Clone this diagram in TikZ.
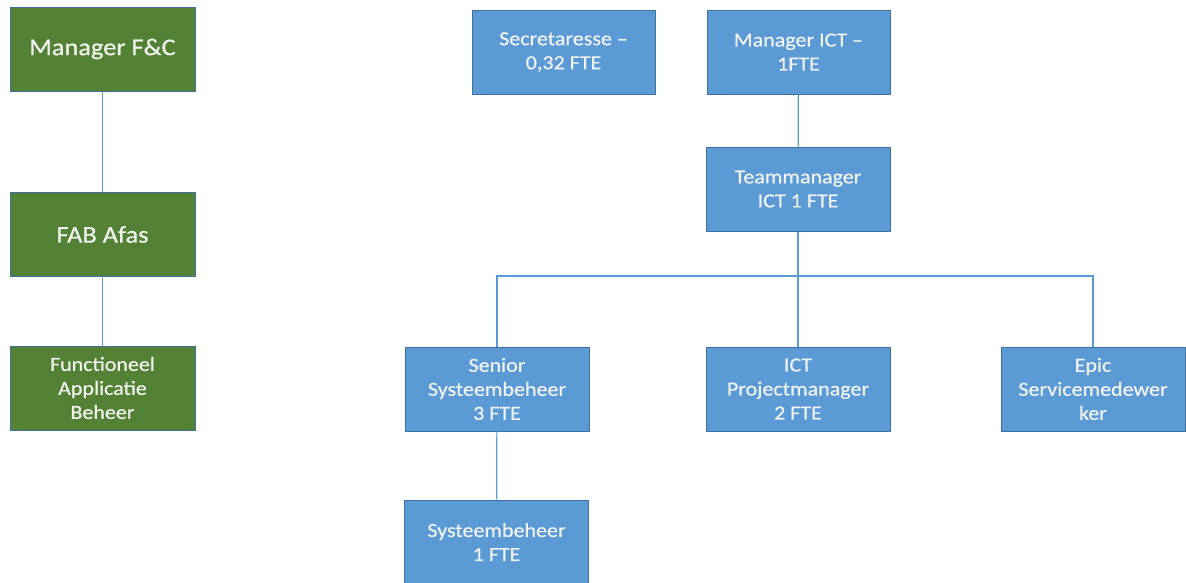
\documentclass[tikz,border=0pt]{standalone}
\usepackage{fontspec}
\setmainfont[FakeStretch=1.1,FakeBold=0.6]{Carlito}
\definecolor{bfill}{HTML}{5B9BD5}
\definecolor{bline}{HTML}{41719C}
\definecolor{gfill}{HTML}{548235}
\definecolor{tcol}{HTML}{F2F2F2}
\tikzset{
  box/.style={draw=bline, line width=1pt, minimum width=184pt, minimum height=84pt,
    text=tcol, align=center, inner sep=2pt, font=\fontsize{20}{24}\selectfont},
  bluebox/.style={box, fill=bfill},
  greenbox/.style={box, fill=gfill},
  bigtext/.style={font=\fontsize{24}{28}\selectfont},
  conn/.style={draw=bfill, line width=1.2pt}
}
\begin{document}
\begin{tikzpicture}[x=1pt,y=1pt]
\useasboundingbox (0,0) rectangle (1186,-582);
\fill[white] (0,0) rectangle (1186,-582);
% green column
\node[greenbox, minimum width=185pt, bigtext] (mfc) at (102.5,-49) {Manager F\&C};
\node[greenbox, minimum width=185pt, bigtext] (fab) at (102.5,-234.5) {FAB Afas};
\node[greenbox, minimum width=185pt] (fun) at (102.5,-388) {Functioneel\\Applicatie\\Beheer};
% blue boxes
\node[bluebox, minimum width=183pt] (sec) at (563.5,-52) {Secretaresse –\\0,32 FTE};
\node[bluebox, minimum width=183pt] (mict) at (798.5,-52) {Manager ICT –\\1FTE};
\node[bluebox] (tm) at (798,-189) {Teammanager\\ICT 1 FTE};
\node[bluebox] (sen) at (497,-389) {Senior\\Systeembeheer\\3 FTE};
\node[bluebox] (pm) at (798,-389) {ICT\\Projectmanager\\2 FTE};
\node[bluebox] (epic) at (1093,-389) {Epic\\Servicemedewer\\ker};
\node[bluebox] (sys) at (496.5,-542) {Systeembeheer\\1 FTE};
\coordinate (bar) at (798,-276);
% connectors
\draw[conn] (mfc) -- (fab);
\draw[conn] (fab) -- (fun);
\draw[conn] (mict) -- (tm);
\draw[conn] (tm) -- (pm);
\draw[conn] (bar) -| (sen.north);
\draw[conn] (bar) -| (epic.north);
\draw[conn] (sen) -- (sys);
\end{tikzpicture}
\end{document}
